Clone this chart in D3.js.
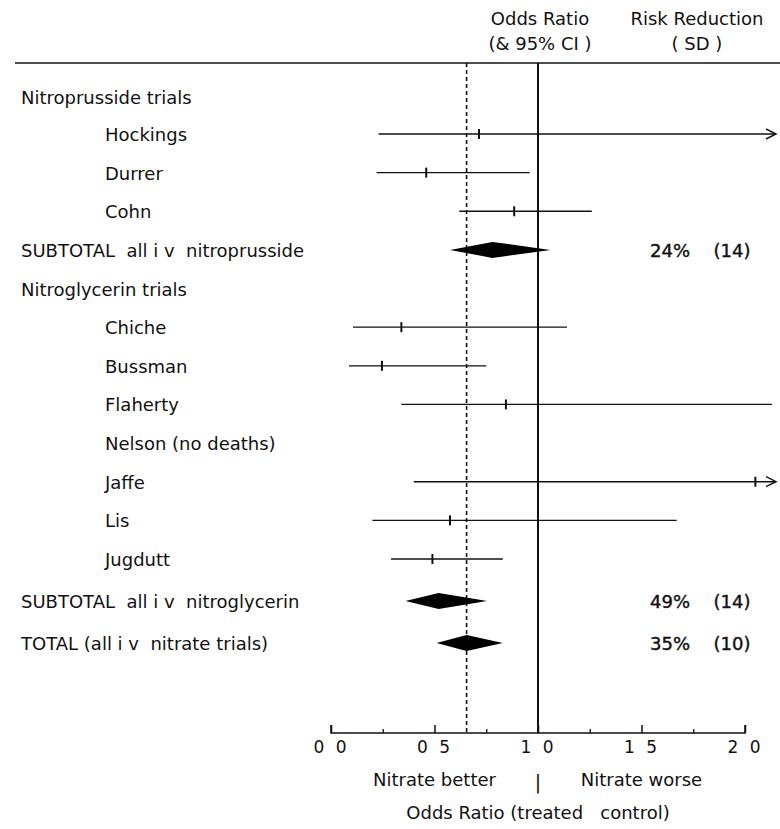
<!DOCTYPE html>
<html><head><meta charset="utf-8">
<script src="https://cdn.jsdelivr.net/npm/d3@7"></script>
<style>body{margin:0;background:#fff}svg text{font-family:"DejaVu Sans",sans-serif;fill:#111}</style>
</head><body><svg id="c" width="780" height="829"></svg>
<script>
const rowLabels = ["Nitroprusside trials","Hockings","Durrer","Cohn","SUBTOTAL  all i v  nitroprusside","Nitroglycerin trials","Chiche","Bussman","Flaherty","Nelson (no deaths)","Jaffe","Lis","Jugdutt","SUBTOTAL  all i v  nitroglycerin","TOTAL (all i v  nitrate trials)"];
const rowKind = ["head","trial","trial","trial","sub","head","trial","trial","trial","trial","trial","trial","trial","sub","sub"];
const oddsRatio = [null,0.715,0.46,0.885,0.78,null,0.34,0.246,0.845,null,2.05,0.575,0.49,0.52,0.655];
const ciLow    = [null,0.23,0.22,0.62,0.575,null,0.106,0.087,0.34,null,0.40,0.20,0.29,0.36,0.51];
const ciHigh   = [null,2.15,0.96,1.26,1.06,null,1.14,0.75,2.13,null,2.15,1.67,0.83,0.754,0.83];
const ciArrow  = [false,true,false,false,false,false,false,false,false,false,true,false,false,false,false];
const riskReduction = [null,null,null,null,"24%",null,null,null,null,null,null,null,null,"49%","35%"];
const riskSD = [null,null,null,null,"(14)",null,null,null,null,null,null,null,null,"(14)","(10)"];
const tickValues = [0,0.5,1,1.5,2];
const tickLabels = ["0 0","0 5","1 0","1 5","2 0"];
const minorTicks = [0.25,0.75,1.25,1.75];
const overallOR = 0.655;

const svg = d3.select("#c");
const x = d3.scaleLinear().domain([0,2]).range([331,745]);
const n = rowLabels.length;
const y = d3.scaleLinear().domain([0,1,n-3,n-1]).range([97,134,559,643]);
const topY = 63, axisY = 733;
const FS = 18;

// header
svg.append("text").attr("x",540).attr("y",25).attr("text-anchor","middle").attr("font-size",FS).text("Odds Ratio");
svg.append("text").attr("x",540).attr("y",50).attr("text-anchor","middle").attr("font-size",FS).text("(& 95% CI )");
svg.append("text").attr("x",697).attr("y",25).attr("text-anchor","middle").attr("font-size",FS).text("Risk Reduction");
svg.append("text").attr("x",697).attr("y",50).attr("text-anchor","middle").attr("font-size",FS).text("( SD )");
svg.append("line").attr("x1",15).attr("x2",780).attr("y1",topY).attr("y2",topY).attr("stroke","#111").attr("stroke-width",1.6);

// reference lines
svg.append("line").attr("x1",x(1)).attr("x2",x(1)).attr("y1",topY).attr("y2",axisY).attr("stroke","#111").attr("stroke-width",2);
svg.append("line").attr("x1",x(overallOR)).attr("x2",x(overallOR)).attr("y1",topY).attr("y2",axisY).attr("stroke","#111").attr("stroke-width",1.6).attr("stroke-dasharray","4,3");

// row labels
rowLabels.forEach((t,i)=>{
  svg.append("text").attr("x", rowKind[i]==="trial"?105:21).attr("y",y(i)+7).attr("font-size",FS).attr("xml:space","preserve").style("white-space","pre").text(t);
});

// trials
const g = svg.append("g");
rowLabels.forEach((t,i)=>{
  if(oddsRatio[i]==null) return;
  const yy = y(i);
  if(rowKind[i]==="trial"){
    g.append("line").attr("x1",x(ciLow[i])).attr("x2",x(ciHigh[i])).attr("y1",yy).attr("y2",yy).attr("stroke","#111").attr("stroke-width",1.3);
    g.append("line").attr("x1",x(oddsRatio[i])).attr("x2",x(oddsRatio[i])).attr("y1",yy-5).attr("y2",yy+5).attr("stroke","#111").attr("stroke-width",2);
    if(ciArrow[i]){
      const xe = x(ciHigh[i]);
      g.append("path").attr("d",`M${xe-10},${yy-5}L${xe},${yy}L${xe-10},${yy+5}`).attr("fill","none").attr("stroke","#111").attr("stroke-width",1.4);
    }
  } else {
    const h = 8;
    g.append("path").attr("d",`M${x(ciLow[i])},${yy}L${x(oddsRatio[i])},${yy-h}L${x(ciHigh[i])},${yy}L${x(oddsRatio[i])},${yy+h}Z`).attr("fill","#000");
  }
  if(riskReduction[i]){
    svg.append("text").attr("x",690).attr("y",yy+7).attr("text-anchor","end").attr("font-size",FS).attr("stroke","#111").attr("stroke-width",0.4).text(riskReduction[i]);
    svg.append("text").attr("x",732).attr("y",yy+7).attr("text-anchor","middle").attr("font-size",FS).attr("stroke","#111").attr("stroke-width",0.4).text(riskSD[i]);
  }
});

// axis
const axis = d3.axisBottom(x).tickValues(tickValues).tickFormat((d,i)=>tickLabels[i]).tickSize(-8).tickPadding(8);
const ag = svg.append("g").attr("transform",`translate(0,${axisY})`).call(axis);
ag.select(".domain").attr("stroke","#111").attr("stroke-width",1.5).attr("d",`M${x(0)},-8V0H${x(2)}V-8`);
ag.selectAll(".tick line").attr("stroke","#111").attr("stroke-width",1.5);
ag.selectAll(".tick text").attr("font-size",17).attr("fill","#111").style("font-family","DejaVu Sans").attr("letter-spacing","3px");
const minor = d3.axisBottom(x).tickValues(minorTicks).tickFormat("").tickSize(-4);
const mg = svg.append("g").attr("transform",`translate(0,${axisY})`).call(minor);
mg.select(".domain").remove();
mg.selectAll(".tick line").attr("stroke","#111").attr("stroke-width",1.3);

svg.append("text").attr("x",x(0.5)).attr("y",786).attr("text-anchor","middle").attr("font-size",FS).text("Nitrate better");
svg.append("text").attr("x",x(1)).attr("y",789).attr("text-anchor","middle").attr("font-size",19).text("|");
svg.append("text").attr("x",x(1.5)).attr("y",786).attr("text-anchor","middle").attr("font-size",FS).text("Nitrate worse");
svg.append("text").attr("x",x(1)).attr("y",819).attr("text-anchor","middle").attr("font-size",FS).attr("xml:space","preserve").style("white-space","pre").text("Odds Ratio (treated   control)");
</script></body></html>
